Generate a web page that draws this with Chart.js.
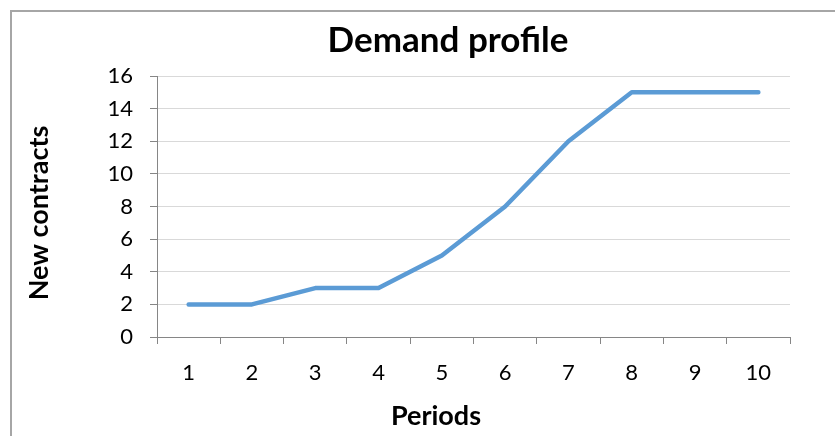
<!DOCTYPE html>
<html><head><meta charset="utf-8">
<script src="https://cdn.jsdelivr.net/npm/chart.js@4/dist/chart.umd.min.js"></script>
<style>html,body{margin:0;padding:0;background:#fff}#wrap{width:835px;height:436px;position:relative}</style>
</head><body><div id="wrap"><canvas id="c" width="835" height="436"></canvas></div>
<script>
const chartTitle = 'Demand profile';
const xAxisTitle = 'Periods';
const yAxisTitle = 'New contracts';
const periods = ['1','2','3','4','5','6','7','8','9','10'];
const newContracts = [2, 2, 3, 3, 5, 8, 12, 15, 15, 15];
const yMin = 0, yMax = 16, yStep = 2;

const frameAndTitles = {
  id: 'frameAndTitles',
  beforeDraw(chart) {
    const ctx = chart.ctx;
    ctx.save();
    ctx.strokeStyle = '#a6a6a6';
    ctx.lineWidth = 2;
    ctx.strokeRect(11, 11, 900, 600);
    ctx.restore();
  },
  afterDraw(chart) {
    const ctx = chart.ctx;
    ctx.save();
    ctx.fillStyle = '#000';
    ctx.textAlign = 'center';
    ctx.textBaseline = 'middle';
    ctx.font = 'bold 35px Lato';
    ctx.fillText(chartTitle, 448, 41);
    ctx.font = 'bold 27px Lato';
    ctx.fillText(xAxisTitle, 436, 416);
    ctx.translate(39, 213);
    ctx.rotate(-Math.PI / 2);
    ctx.fillText(yAxisTitle, 0, 0);
    ctx.restore();
  }
};

new Chart(document.getElementById('c'), {
  type: 'line',
  data: {
    labels: periods,
    datasets: [{
      data: newContracts,
      borderColor: '#5B9BD5',
      borderWidth: 4.5,
      tension: 0,
      pointRadius: 0,
      borderCapStyle: 'round',
      borderJoinStyle: 'round',
      fill: false
    }]
  },
  options: {
    responsive: false,
    animation: false,
    layout: { padding: { top: 76, right: 45, left: 0, bottom: 0 } },
    plugins: { legend: { display: false }, tooltip: { enabled: false }, title: { display: false } },
    scales: {
      x: {
        offset: true,
        grid: { offset: true, drawOnChartArea: false, drawTicks: true, tickLength: 7, tickColor: '#868686' },
        border: { color: '#868686', width: 1 },
        ticks: { font: { family: 'Lato', size: 22 }, color: '#000', padding: 16, maxRotation: 0 },
        afterFit(s) { s.height = 99; }
      },
      y: {
        min: yMin, max: yMax,
        grid: { color: '#d9d9d9', tickColor: '#868686', tickLength: 7 },
        border: { color: '#868686', width: 1 },
        ticks: { stepSize: yStep, font: { family: 'Lato', size: 22 }, color: '#000', padding: 17 },
        afterFit(s) { s.width = 157; }
      }
    }
  },
  plugins: [frameAndTitles]
});
</script>
</body></html>
